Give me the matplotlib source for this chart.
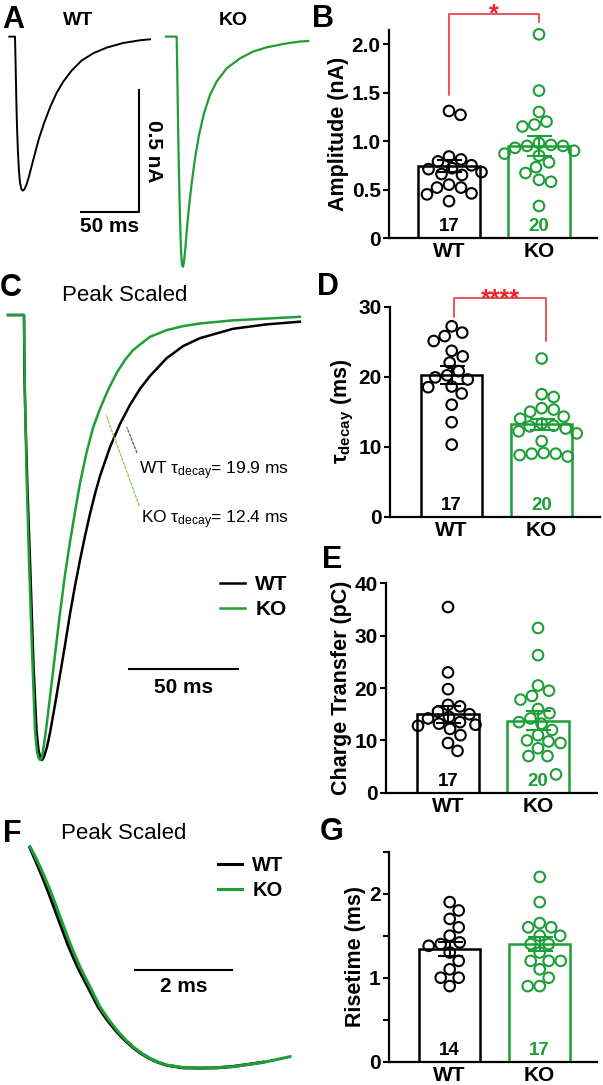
import numpy as np
import matplotlib
matplotlib.use('Agg')
import matplotlib.pyplot as plt

plt.rcParams['font.family'] = ['Liberation Sans', 'DejaVu Sans']
plt.rcParams['mathtext.fontset'] = 'custom'
plt.rcParams['mathtext.rm'] = 'Liberation Sans'
plt.rcParams['mathtext.it'] = 'Liberation Sans:italic'
plt.rcParams['mathtext.bf'] = 'Liberation Sans:bold'

GREEN = '#1e9e37'
RED = '#e8262b'
groups = ['WT', 'KO']

# ---- A: example traces (ms, nA) ----
a_wt_t = [0, 4.86, 5.42, 5.99, 6.56, 7.41, 8.26, 9.11, 10.25, 11.39, 12.81, 14.51, 16.50, 19.05, 21.89, 25.30,
          29.56, 34.67, 40.35, 46.03, 53.12, 61.64, 71.58, 82.94, 97.13, 111.33, 119.85]
a_wt_i = [0, 0, -0.123, -0.260, -0.369, -0.478, -0.553, -0.598, -0.624, -0.631, -0.626, -0.608, -0.577, -0.530,
          -0.478, -0.417, -0.355, -0.290, -0.230, -0.184, -0.139, -0.098, -0.068, -0.045, -0.026, -0.015, -0.011]
a_ko_t = [0, 9.09, 9.65, 10.22, 11.07, 11.93, 12.78, 13.63, 14.48, 15.33, 16.47, 17.60, 19.59, 21.86, 24.70, 28.11,
          32.37, 37.48, 43.16, 51.68, 63.03, 74.39, 85.75, 99.94, 114.14, 121.24]
a_ko_i = [0, 0, -0.157, -0.348, -0.567, -0.745, -0.874, -0.936, -0.943, -0.922, -0.867, -0.799, -0.697, -0.601,
          -0.499, -0.403, -0.314, -0.239, -0.184, -0.130, -0.089, -0.061, -0.044, -0.030, -0.020, -0.018]

# ---- C: peak scaled traces (ms, normalised) ----
c_ko_t = [0, 7.34, 7.80, 8.58, 9.63, 11.01, 12.39, 13.30, 14.22, 14.91, 15.60, 16.51, 17.89, 19.27, 21.56, 23.85,
          26.15, 28.44, 30.73, 33.03, 36.10, 38.99, 42.20, 45.87, 49.86, 53.67, 57.34, 61.47, 65.14, 72.80, 80.28,
          88.07, 103.21, 118.67, 133.94]
c_ko_i = [0, 0, -0.191, -0.371, -0.551, -0.753, -0.933, -0.982, -0.998, -1.0, -0.993, -0.966, -0.915, -0.858,
          -0.764, -0.670, -0.584, -0.510, -0.443, -0.378, -0.308, -0.254, -0.211, -0.169, -0.130, -0.101, -0.079,
          -0.063, -0.049, -0.034, -0.025, -0.019, -0.012, -0.008, -0.004]
c_wt_t = [0, 7.34, 7.57, 8.03, 8.94, 10.32, 11.70, 13.07, 13.99, 14.91, 15.60, 16.51, 17.89, 19.27, 21.56, 23.85,
          26.15, 28.44, 30.73, 33.03, 35.32, 37.61, 39.91, 42.20, 46.79, 51.38, 55.96, 60.55, 65.14, 72.80, 80.28,
          88.07, 103.21, 118.67, 133.94]
c_wt_i = [0, 0, -0.139, -0.236, -0.393, -0.584, -0.787, -0.933, -0.978, -0.996, -1.0, -0.993, -0.971, -0.939,
          -0.876, -0.809, -0.742, -0.672, -0.609, -0.551, -0.497, -0.447, -0.402, -0.362, -0.297, -0.245, -0.202,
          -0.166, -0.137, -0.097, -0.070, -0.052, -0.031, -0.021, -0.015]
tau_wt, tau_ko = 19.9, 12.4

# ---- F: peak scaled rising phase (ms, normalised) ----
f_ko_t = [0, 0.103, 0.206, 0.309, 0.412, 0.515, 0.617, 0.720, 0.823, 0.926, 1.029, 1.132, 1.235, 1.338, 1.440,
          1.612, 1.784, 1.955, 2.126, 2.298, 2.469, 2.641, 2.813, 3.154, 3.498, 3.841, 4.183, 4.527, 4.870, 5.350]
f_ko_i = [-0.070, -0.110, -0.154, -0.202, -0.252, -0.307, -0.364, -0.420, -0.476, -0.527, -0.575, -0.618,
          -0.659, -0.702, -0.743, -0.795, -0.840, -0.879, -0.911, -0.938, -0.959, -0.975, -0.987, -0.998, -1.0,
          -0.998, -0.994, -0.984, -0.973, -0.952]
f_wt_t = [0, 0.09, 0.18, 0.28, 0.38, 0.48, 0.58, 0.68, 0.78, 0.885, 0.99, 1.095, 1.20, 1.305, 1.41, 1.585,
          1.76, 1.935, 2.11, 2.285, 2.46, 2.635, 2.81, 3.15, 3.50, 3.84, 4.18, 4.53, 4.80]
f_wt_i = [-0.075, -0.117, -0.160, -0.210, -0.262, -0.317, -0.372, -0.427, -0.482, -0.532, -0.580, -0.622,
          -0.663, -0.705, -0.746, -0.797, -0.842, -0.880, -0.912, -0.939, -0.960, -0.976, -0.988, -0.999, -1.0,
          -0.999, -0.993, -0.983, -0.975]

# ---- B: amplitude (nA) ----
amp_wt = [1.31, 1.27, 0.84, 0.81, 0.79, 0.75, 0.72, 0.71, 0.68, 0.66, 0.65, 0.55, 0.52, 0.52, 0.46, 0.45, 0.38]
amp_ko = [2.1, 1.52, 1.3, 1.2, 1.17, 1.15, 0.98, 0.96, 0.95, 0.95, 0.93, 0.9, 0.87, 0.85, 0.78, 0.73, 0.67, 0.6, 0.58, 0.33]
amp_mean, amp_sem = [0.74, 0.95], [0.06, 0.10]

# ---- D: tau decay (ms) ----
tau_wt_pts = [27.2, 26.3, 25.8, 25.1, 23.7, 22.9, 22.0, 20.8, 20.2, 19.9, 19.6, 18.6, 18.5, 17.6, 16.0, 13.5, 10.3]
tau_ko_pts = [22.6, 17.5, 17.1, 15.5, 15.3, 15.0, 14.3, 14.0, 13.3, 13.0, 12.9, 12.6, 12.2, 11.9, 10.8, 9.1, 9.0, 9.0, 8.8, 8.6]
tau_mean, tau_sem = [20.3, 13.2], [1.3, 0.8]

# ---- E: charge transfer (pC) ----
q_wt = [35.5, 23, 19.8, 16.8, 16.5, 15.5, 15, 14.5, 14.2, 13.5, 13.2, 13, 12.8, 12.2, 11, 9.5, 8]
q_ko = [31.5, 26.3, 20.5, 19.5, 18.5, 17.8, 16, 15.2, 14.2, 13.5, 13.2, 12, 11, 10, 9.8, 9.5, 8.5, 7, 7, 3.5]
q_mean, q_sem = [15.0, 13.8], [1.6, 1.8]

# ---- G: risetime (ms) ----
rt_wt = [1.9, 1.8, 1.7, 1.6, 1.5, 1.42, 1.4, 1.38, 1.3, 1.2, 1.1, 1.0, 1.0, 0.9]
rt_ko = [2.2, 1.9, 1.65, 1.6, 1.6, 1.5, 1.5, 1.4, 1.4, 1.3, 1.2, 1.2, 1.2, 1.1, 1.0, 0.9, 0.9]
rt_mean, rt_sem = [1.34, 1.40], [0.08, 0.08]

W, H = 603, 1085
fig = plt.figure(figsize=(W / 100, H / 100), dpi=100)


def px_axes(left, top, right, bottom):
    return fig.add_axes([left / W, 1 - bottom / H, (right - left) / W, (bottom - top) / H])


def letter(s, x, y):
    fig.text(x / W, 1 - y / H, s, fontsize=22, fontweight='bold', va='baseline', ha='left')


# ---------------- A ----------------
axa1 = px_axes(0, 0, 163, 280)
axa2 = px_axes(163, 0, 310, 280)
for ax in (axa1, axa2):
    ax.set_ylim(-0.997, 0.150)
    ax.axis('off')
axa1.set_xlim(-7.92, 130.9)
axa2.set_xlim(-2.56, 122.7)
axa1.plot(a_wt_t, a_wt_i, color='black', lw=1.4)
axa2.plot(a_ko_t, a_ko_i, color=GREEN, lw=1.6)
axa1.text(58.5, 0.068, 'WT', fontsize=14, fontweight='bold', ha='center', va='center')
axa2.text(57.1, 0.068, 'KO', fontsize=14, fontweight='bold', ha='center', va='center')
# scale bar 50 ms / 0.5 nA
sb_t, sb_i = 110.8, -0.72
axa1.plot([sb_t - 50, sb_t, sb_t], [sb_i, sb_i, sb_i + 0.5], color='black', lw=1.5, clip_on=False)
axa1.text(sb_t - 25, sb_i - 0.02, '50 ms', fontsize=15, fontweight='bold', ha='center', va='top')
axa1.text(sb_t + 12, sb_i + 0.25, '0.5 nA', fontsize=15, fontweight='bold', ha='center', va='center',
          rotation=270, clip_on=False)
letter('A', 2, 28)

# ---------------- C ----------------
axc = px_axes(0, 280, 302, 770)
axc.set_xlim(-3.67, 134.9)
axc.set_ylim(-1.0225, 0.0787)
axc.axis('off')
lw_c, = axc.plot(c_wt_t, c_wt_i, color='black', lw=1.8, label='WT')
lk_c, = axc.plot(c_ko_t, c_ko_i, color=GREEN, lw=1.8, label='KO')
axc.text(0.205, 0.969, 'Peak Scaled', transform=axc.transAxes, fontsize=16, ha='left', va='center')
axc.annotate('', xy=(54.1, -0.247), xytext=(59.6, -0.315),
             arrowprops=dict(arrowstyle='-', color='#555555', lw=0.9, ls=(0, (2, 1.5))))
axc.annotate('', xy=(44.5, -0.218), xytext=(60.6, -0.434),
             arrowprops=dict(arrowstyle='-', color='#8cc63f', lw=0.9, ls=(0, (2, 1.5))))
axc.text(60.1, -0.35, r'WT $\mathregular{\tau_{decay}}$= %.1f ms' % tau_wt, fontsize=12.5, va='center')
axc.text(61.0, -0.461, r'KO $\mathregular{\tau_{decay}}$= %.1f ms' % tau_ko, fontsize=12.5, va='center')
axc.legend(handles=[lw_c, lk_c], loc='upper left', bbox_to_anchor=(0.70, 0.415), frameon=False,
           prop=dict(size=15, weight='bold'), handlelength=1.2, handletextpad=0.5, labelspacing=0.3,
           borderaxespad=0)
sc_t, sc_i = 55.5, -0.796
axc.plot([sc_t, sc_t + 50], [sc_i, sc_i], color='black', lw=1.5)
axc.text(sc_t + 25, sc_i - 0.02, '50 ms', fontsize=15, fontweight='bold', ha='center', va='top')
letter('C', 0, 296)

# ---------------- F ----------------
axf = px_axes(0, 800, 300, 1080)
axf.set_xlim(-0.617, 5.556)
axf.set_ylim(-1.050, 0.126)
axf.axis('off')
lw_f, = axf.plot(f_wt_t, f_wt_i, color='black', lw=2.2, label='WT')
lk_f, = axf.plot(f_ko_t, f_ko_i, color=GREEN, lw=2.2, label='KO')
axf.text(0.205, 0.882, 'Peak Scaled', transform=axf.transAxes, fontsize=16, ha='left', va='center')
axf.legend(handles=[lw_f, lk_f], loc='upper left', bbox_to_anchor=(0.70, 0.83), frameon=False,
           prop=dict(size=14.5, weight='bold'), handlelength=1.2, handletextpad=0.5, labelspacing=0.3,
           borderaxespad=0)
sf_t, sf_i = 2.16, -0.588
axf.plot([sf_t, sf_t + 2], [sf_i, sf_i], color='black', lw=1.5)
axf.text(sf_t + 1, sf_i - 0.03, '2 ms', fontsize=15, fontweight='bold', ha='center', va='top')
letter('F', 3, 842)


# ---------------- bar panels ----------------
def swarm(values, ppu_y, ppu_x=90.0, d=12.0):
    # greedy beeswarm in pixel space, keeping clear of the n label at the bar foot
    offs = np.zeros(len(values))
    placed = []
    cands = [0.0] + [s * sg for s in np.arange(0.5, 80, 0.5) for sg in (1, -1)]
    for i in np.argsort(values)[::-1]:
        y = values[i] * ppu_y
        for c in cands:
            if y < 24 and abs(c) < 18:
                continue
            if all((c - px) ** 2 + (y - py) ** 2 >= d * d for px, py in placed):
                break
        placed.append((c, y))
        offs[i] = c / ppu_x
    return offs


def bar_panel(box, c0, wt, ko, means, sems, ylim, yticks, yticklabels, ylabel):
    left, top, right, bottom = box
    ax = px_axes(left, top, right, bottom)
    ax.set_xlim((left - c0) / 90, (right - c0) / 90)
    ax.set_ylim(*ylim)
    ppu = (bottom - top) / (ylim[1] - ylim[0])
    for x, vals, m, e, col in zip([0, 1], [wt, ko], means, sems, ['black', GREEN]):
        vals = np.array(vals)
        ax.bar(x, m, width=0.68, facecolor='white', edgecolor=col, linewidth=1.8, zorder=1)
        ax.scatter(x + swarm(vals, ppu), vals, s=58, facecolors='none', edgecolors=col,
                   linewidths=1.5, zorder=2, clip_on=False)
        ax.errorbar(x, m, yerr=e, fmt='none', ecolor=col, elinewidth=1.5, capsize=9,
                    capthick=1.5, zorder=3)
        ax.annotate(str(len(vals)), (x, 0), xytext=(0, 2), textcoords='offset points',
                    ha='center', va='bottom', color=col, fontsize=13.5, fontweight='bold')
    for s in ('top', 'right'):
        ax.spines[s].set_visible(False)
    for s in ('left', 'bottom'):
        ax.spines[s].set_linewidth(1.6)
    ax.set_yticks(yticks)
    ax.set_yticklabels(yticklabels, fontsize=15, fontweight='bold')
    ax.tick_params(axis='y', length=4, width=1.5, pad=2)
    ax.set_xticks([0, 1])
    ax.set_xticklabels(groups, fontsize=15, fontweight='bold')
    ax.tick_params(axis='x', length=0, pad=3)
    ax.set_ylabel(ylabel, fontsize=15.5, fontweight='bold', labelpad=2)
    return ax


def bracket(ax, x0, x1, y0, ytop, y1, label):
    ax.plot([x0, x0, x1, x1], [y0, ytop, ytop, y1], color=RED, lw=1.1, clip_on=False)
    ax.annotate(label, ((x0 + x1) / 2, ytop), xytext=(0, -5.5), textcoords='offset points',
                ha='center', va='baseline', color=RED, fontsize=18, fontweight='bold',
                annotation_clip=False)


axb = bar_panel((389, 29.5, 597, 238), 449, amp_wt, amp_ko, amp_mean, amp_sem, (0, 2.15),
                [0, 0.5, 1.0, 1.5, 2.0], ['0', '0.5', '1.0', '1.5', '2.0'], 'Amplitude (nA)')
bracket(axb, 0, 1, 1.47, 2.31, 2.23, '*')
letter('B', 312, 27)

axd = bar_panel((390, 306.7, 600, 516.7), 451.7, tau_wt_pts, tau_ko_pts, tau_mean, tau_sem, (0, 30),
                [0, 10, 20, 30], ['0', '10', '20', '30'], r'$\mathregular{\tau_{decay}}$ (ms)')
bracket(axd, 0.03, 1.05, 28.6, 31.2, 25.1, '****')
letter('D', 317, 295)

axe = bar_panel((386, 583.5, 597, 792.7), 448, q_wt, q_ko, q_mean, q_sem, (0, 40),
                [0, 10, 20, 30, 40], ['0', '10', '20', '30', '40'], 'Charge Transfer (pC)')
letter('E', 322, 568)

axg = bar_panel((389, 851.7, 597, 1061.7), 449.7, rt_wt, rt_ko, rt_mean, rt_sem, (0, 2.5),
                [0, 0.5, 1, 1.5, 2, 2.5], ['0', '', '1', '', '2', ''], 'Risetime (ms)')
letter('G', 320, 840)

fig.savefig('out.png', dpi=100)
